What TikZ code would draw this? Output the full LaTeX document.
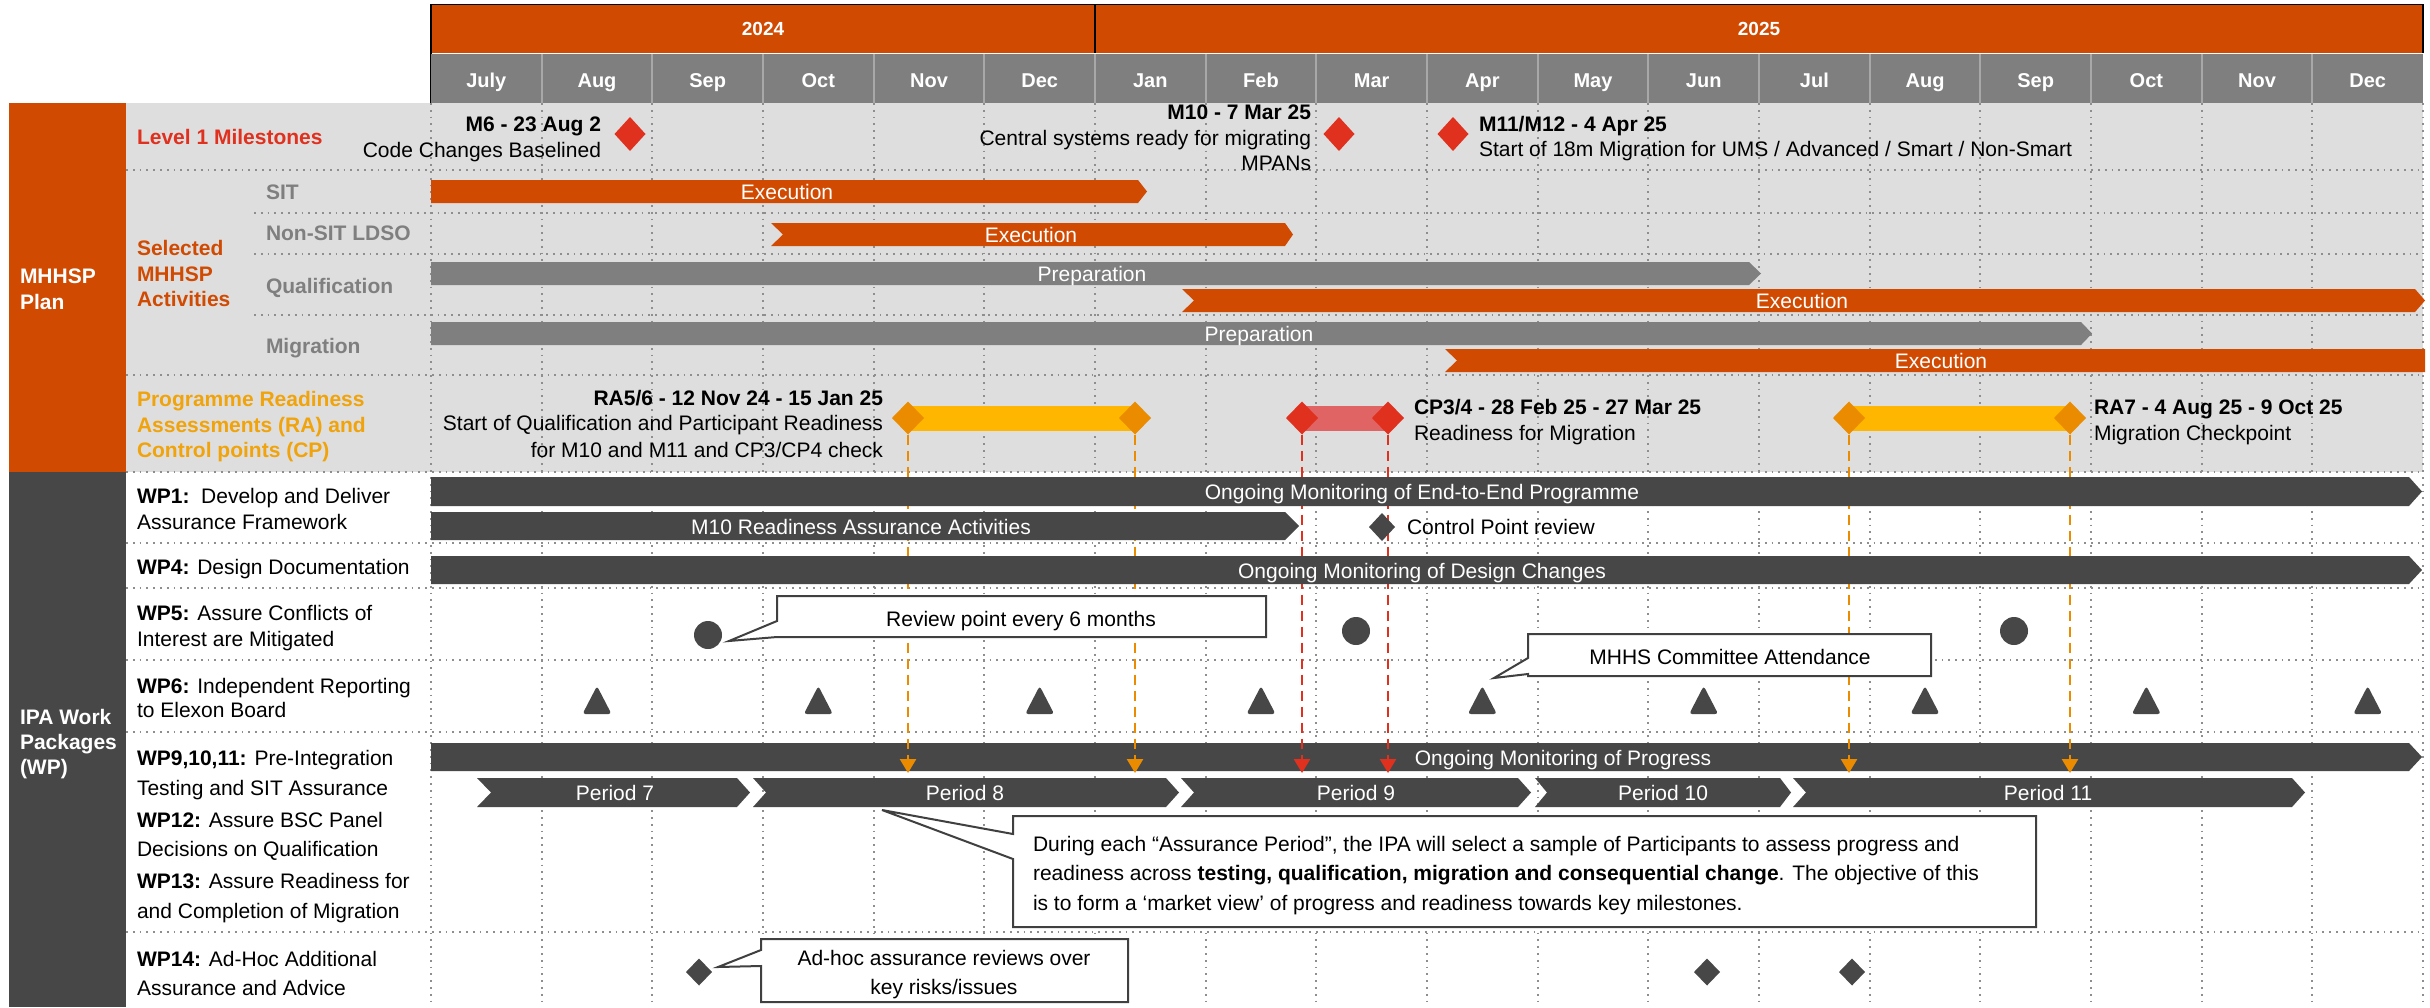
\documentclass[tikz,border=0pt]{standalone}
\usepackage{fontspec}
\setmainfont{Liberation Sans}
\usetikzlibrary{shapes.geometric,arrows.meta}
\definecolor{pwcorange}{HTML}{D04A02}
\definecolor{pwcred}{HTML}{E0301E}
\definecolor{pwcyellow}{HTML}{FFB600}
\definecolor{pwcamber}{HTML}{EB8C00}
\definecolor{lightred}{HTML}{E06464}
\definecolor{midgray}{HTML}{7F7F7F}
\definecolor{darkgray}{HTML}{474747}
\definecolor{panelgray}{HTML}{DEDEDE}
\definecolor{gridgray}{HTML}{8E8E8E}
\definecolor{sepgray}{HTML}{A8A8A8}
\definecolor{ralabel}{HTML}{F0A30A}
\definecolor{boxline}{HTML}{404040}

% bar with optional notched start (#3) and pointed end (#5)
\newcommand{\ganttbar}[7]{%
  \fill[#1] (#2,#6) -- (#4,#6) -- ({#4+#5},{(#6+#7)/2}) -- (#4,#7) -- (#2,#7) -- ({#2+#3},{(#6+#7)/2}) -- cycle;}

\begin{document}
\begin{tikzpicture}[x=1pt,y=-1pt,
  txt/.style={font=\fontsize{21}{25}\selectfont, inner sep=0pt, outer sep=0pt},
  btxt/.style={font=\fontsize{21}{25}\selectfont\bfseries, inner sep=0pt, outer sep=0pt},
  bartxt/.style={txt, text=white, anchor=base},
  grid/.style={draw=gridgray, line width=1.8pt, dash pattern=on 1.8pt off 5pt},
  dia/.style={shape=diamond, inner sep=0pt, outer sep=0pt},
  msdia/.style={dia, fill=pwcred, minimum width=31pt, minimum height=34pt},
  radia/.style={dia, fill=pwcamber, minimum width=32pt, minimum height=33pt},
  cpdia/.style={dia, fill=pwcred, minimum width=32pt, minimum height=33pt},
  wpdia/.style={dia, fill=darkgray, minimum width=26pt, minimum height=28pt},
  callout/.style={fill=white, draw=boxline, line width=2pt, line join=miter},
  raline/.style={draw=pwcamber, line width=2.5pt, dash pattern=on 10pt off 6pt, -{Triangle[width=16pt,length=14pt]}},
  cpline/.style={draw=pwcred, line width=2.5pt, dash pattern=on 10pt off 6pt, -{Triangle[width=16pt,length=14pt]}},
]
\useasboundingbox (0,0) rectangle (2430,1007);
\fill[white] (0,0) rectangle (2430,1007);

% ---------- panels ----------
\fill[panelgray] (126,103) rectangle (2423,472);
\fill[pwcorange] (9,103) rectangle (126,472);
\fill[darkgray] (9,472) rectangle (126,1007);

% ---------- header ----------
\fill[pwcorange] (431,5) rectangle (2423,53);
\draw[black, line width=1.5pt] (431,4.5) -- (2423,4.5) -- (2423,53);
\draw[black, line width=2pt] (431,4) -- (431,103);
\draw[black, line width=2pt] (1095,4) -- (1095,53);
\fill[midgray] (431,54) rectangle (2423,103);
\foreach \k in {1,...,17} \draw[sepgray, line width=2pt] ({431+\k*110.667},54) -- ({431+\k*110.667},103);
\node[font=\fontsize{19}{22}\selectfont\bfseries, text=white, inner sep=0pt] (y2024) at (763,29) {2024};
\node[font=\fontsize{19}{22}\selectfont\bfseries, text=white, inner sep=0pt] (y2025) at (1759,29) {2025};
\foreach \m [count=\k from 0] in {July,Aug,Sep,Oct,Nov,Dec,Jan,Feb,Mar,Apr,May,Jun,Jul,Aug,Sep,Oct,Nov,Dec}
  \node[font=\fontsize{20}{24}\selectfont\bfseries, text=white, inner sep=0pt, anchor=base] (mon\k) at ({431+(\k+0.5)*110.667},87) {\m};

% ---------- grid ----------
\foreach \k in {0,...,18} \draw[grid] ({431+\k*110.667},103) -- ({431+\k*110.667},1007);
\draw[grid] (126,170) -- (2423,170);
\draw[grid] (254,213) -- (2423,213);
\draw[grid] (254,254) -- (2423,254);
\draw[grid] (254,315) -- (2423,315);
\draw[grid] (126,375) -- (2423,375);
\draw[grid] (126,472) -- (2423,472);
\draw[grid] (126,543) -- (2423,543);
\draw[grid] (126,588) -- (2423,588);
\draw[grid] (126,660) -- (2423,660);
\draw[grid] (126,732) -- (2423,732);
\draw[grid] (126,932) -- (2423,932);

% ---------- left labels ----------
\node[btxt, text=white, anchor=base west] (plana) at (20,283.5) {MHHSP};
\node[btxt, text=white, anchor=base west] (planb) at (20,309.5) {Plan};
\node[btxt, text=white, anchor=base west] (ipaa) at (20,724.5) {IPA Work};
\node[btxt, text=white, anchor=base west] (ipab) at (20,749.5) {Packages};
\node[btxt, text=white, anchor=base west] (ipac) at (20,774.5) {(WP)};

\node[btxt, text=pwcred, anchor=base west] (lvl1) at (137,144.5) {Level 1 Milestones};
\node[btxt, text=pwcorange, anchor=base west] (sela) at (137,255.5) {Selected};
\node[btxt, text=pwcorange, anchor=base west] (selb) at (137,281) {MHHSP};
\node[btxt, text=pwcorange, anchor=base west] (selc) at (137,306.5) {Activities};
\node[btxt, text=midgray, anchor=base west] (subsit) at (266,199.5) {SIT};
\node[btxt, text=midgray, anchor=base west] (subldso) at (266,240.5) {Non-SIT LDSO};
\node[btxt, text=midgray, anchor=base west] (subqual) at (266,293.5) {Qualification};
\node[btxt, text=midgray, anchor=base west] (submig) at (266,353.5) {Migration};
\node[btxt, text=ralabel, anchor=base west] (rala) at (137,406.5) {Programme Readiness};
\node[btxt, text=ralabel, anchor=base west] (ralb) at (137,432.5) {Assessments (RA) and};
\node[btxt, text=ralabel, anchor=base west] (ralc) at (137,457.5) {Control points (CP)};

\node[txt, anchor=base west] (wp1a) at (137,503.5) {\textbf{WP1:}\ \ Develop and Deliver};
\node[txt, anchor=base west] (wp1b) at (137,529.5) {Assurance Framework};
\node[txt, anchor=base west] (wp4a) at (137,574.5) {\textbf{WP4:} Design Documentation};
\node[txt, anchor=base west] (wp5a) at (137,620.5) {\textbf{WP5:} Assure Conflicts of};
\node[txt, anchor=base west] (wp5b) at (137,646.5) {Interest are Mitigated};
\node[txt, anchor=base west] (wp6a) at (137,693.5) {\textbf{WP6:} Independent Reporting};
\node[txt, anchor=base west] (wp6b) at (137,717.5) {to Elexon Board};
\node[txt, anchor=base west] (wp9a) at (137,765.5) {\textbf{WP9,10,11:} Pre-Integration};
\node[txt, anchor=base west] (wp9b) at (137,795.5) {Testing and SIT Assurance};
\node[txt, anchor=base west] (wp12a) at (137,827.5) {\textbf{WP12:} Assure BSC Panel};
\node[txt, anchor=base west] (wp12b) at (137,856.5) {Decisions on Qualification};
\node[txt, anchor=base west] (wp13a) at (137,888.5) {\textbf{WP13:} Assure Readiness for};
\node[txt, anchor=base west] (wp13b) at (137,918.5) {and Completion of Migration};
\node[txt, anchor=base west] (wp14a) at (137,966.5) {\textbf{WP14:} Ad-Hoc Additional};
\node[txt, anchor=base west] (wp14b) at (137,995.5) {Assurance and Advice};

% ---------- Level 1 milestones ----------
\node[msdia] (m6) at (630,134) {};
\node[msdia] (m10) at (1339,134) {};
\node[msdia] (m11) at (1453,134) {};
\node[btxt, anchor=base east] (m6a) at (601,131.5) {M6 - 23 Aug 2};
\node[txt, anchor=base east] (m6b) at (601,157.5) {Code Changes Baselined};
\node[btxt, anchor=base east] (m10a) at (1311,119.5) {M10 - 7 Mar 25};
\node[txt, anchor=base east] (m10b) at (1311,145.5) {Central systems ready for migrating};
\node[txt, anchor=base east] (m10c) at (1311,170.5) {MPANs};
\node[btxt, anchor=base west] (m11a) at (1479,131.5) {M11/M12 - 4 Apr 25};
\node[txt, anchor=base west] (m11b) at (1479,156.5) {Start of 18m Migration for UMS / Advanced / Smart / Non-Smart};

% ---------- selected MHHSP activities ----------
\ganttbar{pwcorange}{431}{0}{1138}{9}{180}{203}
\node[bartxt] (sitx) at (787,199.5) {Execution};
\ganttbar{pwcorange}{771}{12}{1285}{8}{223}{246}
\node[bartxt] (ldsox) at (1031,242.5) {Execution};
\ganttbar{midgray}{431}{0}{1749}{12}{262}{285}
\node[bartxt] (qualp) at (1092,281.5) {Preparation};
\ganttbar{pwcorange}{1182}{12}{2415}{10}{289}{312}
\node[bartxt] (qualx) at (1802,308.5) {Execution};
\ganttbar{midgray}{431}{0}{2081}{11}{322}{345}
\node[bartxt] (migp) at (1259,341.5) {Preparation};
\ganttbar{pwcorange}{1445}{12}{2425}{0}{349}{372}
\node[bartxt] (migx) at (1941,368.5) {Execution};

% ---------- readiness assessments and control points ----------
\fill[pwcyellow] (908,406) rectangle (1135,431);
\fill[lightred] (1302,406) rectangle (1388,431);
\fill[pwcyellow] (1849,406) rectangle (2070,431);
\node[radia] (ra5s) at (908,418) {};
\node[radia] (ra5e) at (1135,418) {};
\node[cpdia] (cp3s) at (1302,418) {};
\node[cpdia] (cp3e) at (1388,418) {};
\node[radia] (ra7s) at (1849,418) {};
\node[radia] (ra7e) at (2070,418) {};
\node[btxt, anchor=base east] (ra5a) at (883,405.5) {RA5/6 - 12 Nov 24 - 15 Jan 25};
\node[txt, anchor=base east] (ra5b) at (883,430.5) {Start of Qualification and Participant Readiness};
\node[txt, anchor=base east] (ra5c) at (883,457.5) {for M10 and M11 and CP3/CP4 check};
\node[btxt, anchor=base west] (cp3a) at (1414,414.5) {CP3/4 - 28 Feb 25 - 27 Mar 25};
\node[txt, anchor=base west] (cp3b) at (1414,440.5) {Readiness for Migration};
\node[btxt, anchor=base west] (ra7a) at (2094,414.5) {RA7 - 4 Aug 25 - 9 Oct 25};
\node[txt, anchor=base west] (ra7b) at (2094,440.5) {Migration Checkpoint};

% ---------- WP9-13: progress monitoring and periods ----------
\ganttbar{darkgray}{431}{0}{2409}{13}{743}{771}
\node[bartxt] (prog) at (1563,765) {Ongoing Monitoring of Progress};
\coordinate (progtop) at (431,773);

% assessment checkpoints feeding the progress monitoring
\draw[raline] (ra5s.south) -- (ra5s.south |- progtop);
\draw[raline] (ra5e.south) -- (ra5e.south |- progtop);
\draw[cpline] (cp3s.south) -- (cp3s.south |- progtop);
\draw[cpline] (cp3e.south) -- (cp3e.south |- progtop);
\draw[raline] (ra7s.south) -- (ra7s.south |- progtop);
\draw[raline] (ra7e.south) -- (ra7e.south |- progtop);

\ganttbar{darkgray}{477}{14}{737}{13}{778}{807}
\node[bartxt] (p7) at (615,800.5) {Period 7};
\ganttbar{darkgray}{753}{13}{1166}{13}{778}{807}
\node[bartxt] (p8) at (965,800.5) {Period 8};
\ganttbar{darkgray}{1181}{13}{1518}{13}{778}{807}
\node[bartxt] (p9) at (1356,800.5) {Period 9};
\ganttbar{darkgray}{1535}{12}{1780}{11}{778}{807}
\node[bartxt] (p10) at (1663,800.5) {Period 10};
\ganttbar{darkgray}{1793}{13}{2292}{13}{778}{807}
\node[bartxt] (p11) at (2048,800.5) {Period 11};

% ---------- WP1 / WP4 bars ----------
\ganttbar{darkgray}{431}{0}{2409}{13}{477}{506}
\node[bartxt] (e2e) at (1422,499.5) {Ongoing Monitoring of End-to-End Programme};
\ganttbar{darkgray}{431}{0}{1285}{14}{512}{540}
\node[bartxt] (m10ra) at (861,534) {M10 Readiness Assurance Activities};
\node[wpdia] (cpr) at (1382,527) {};
\node[txt, anchor=base west] (cprt) at (1407,534.5) {Control Point review};
\ganttbar{darkgray}{431}{0}{2409}{13}{556}{584}
\node[bartxt] (design) at (1422,578) {Ongoing Monitoring of Design Changes};

% ---------- WP5 review points ----------
\fill[darkgray] (708,635) circle (14);
\fill[darkgray] (1356,631) circle (14);
\fill[darkgray] (2014,631) circle (14);
\draw[callout] (777,596) -- (1266,596) -- (1266,637) -- (777,637) -- (729,641) -- (777,621) -- cycle;
\node[txt, anchor=base] (rpt) at (1021,626.5) {Review point every 6 months};

% ---------- WP6 board reporting ----------
\foreach \i in {0,...,8}
  \fill[darkgray, rounded corners=3pt] ({431+(1.5+2*\i)*110.667-14.5},714) -- ({431+(1.5+2*\i)*110.667},686) -- ({431+(1.5+2*\i)*110.667+14.5},714) -- cycle;
\draw[callout] (1528,634) -- (1931,634) -- (1931,676) -- (1528,676) -- (1528,674) -- (1494,678) -- (1528,658) -- cycle;
\node[txt, anchor=base] (mca) at (1730,664.5) {MHHS Committee Attendance};

% ---------- assurance period note ----------
\draw[callout] (1013,816) -- (2036,816) -- (2036,927) -- (1013,927) -- (1013,859) -- (882,810) -- (1013,834) -- cycle;
\node[txt, anchor=base west] (notea) at (1033,851.5) {During each “Assurance Period”, the IPA will select a sample of Participants to assess progress and};
\node[txt, anchor=base west] (noteb) at (1033,880.5) {readiness across \textbf{testing, qualification, migration and consequential change}. The objective of this};
\node[txt, anchor=base west] (notec) at (1033,910.5) {is to form a ‘market view’ of progress and readiness towards key milestones.};

% ---------- WP14 ad-hoc reviews ----------
\node[wpdia, minimum height=27pt] (ah1) at (699,972) {};
\node[wpdia, minimum height=27pt] (ah2) at (1707,972) {};
\node[wpdia, minimum height=27pt] (ah3) at (1852,972) {};
\draw[callout] (761,939) -- (1128,939) -- (1128,1002) -- (761,1002) -- (761,966) -- (718,967) -- (761,950) -- cycle;
\node[txt, anchor=base] (aha) at (944,965.5) {Ad-hoc assurance reviews over};
\node[txt, anchor=base] (ahb) at (944,994.5) {key risks/issues};
\end{tikzpicture}
\end{document}
